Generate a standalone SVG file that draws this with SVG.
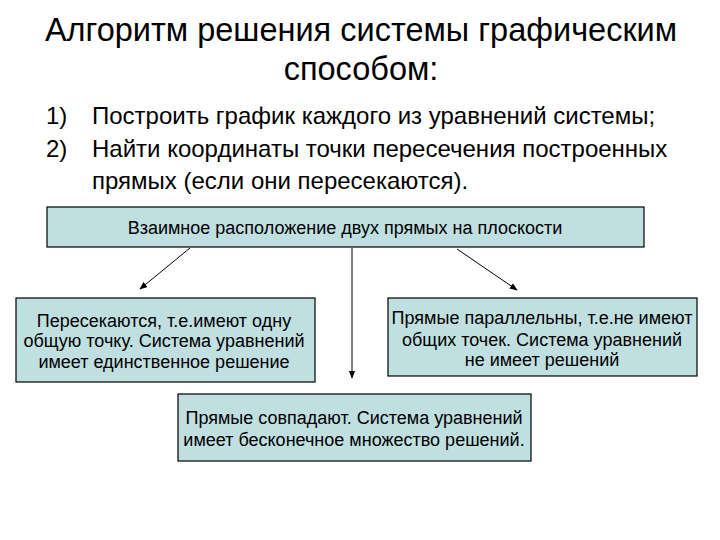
<svg xmlns="http://www.w3.org/2000/svg" width="720" height="540" viewBox="0 0 720 540">
<defs>
<style>
.t{font-family:"Liberation Sans",Arial,sans-serif;fill:#000}
.title{font-size:32.5px}
.li{font-size:24px}
.bx{fill:#bfdfe0;stroke:#000;stroke-width:1.2}
.bt{font-size:18px;text-anchor:middle}
.c{stroke:#000;stroke-width:1;fill:none}
</style>
<marker id="ah" viewBox="0 0 10 10" refX="9" refY="5" markerWidth="8" markerHeight="8" orient="auto"><path d="M0,1 L10,5 L0,9 Z" fill="#000"/></marker>
</defs>
<rect width="720" height="540" fill="#fff"/>
<text class="t title" x="361" y="41" text-anchor="middle">Алгоритм решения системы графическим</text>
<text class="t title" x="361" y="80" text-anchor="middle">способом:</text>
<text class="t li" x="46" y="124">1)</text>
<text class="t li" x="92" y="124">Построить график каждого из уравнений системы;</text>
<text class="t li" x="46" y="157">2)</text>
<text class="t li" x="92" y="157">Найти координаты точки пересечения построенных</text>
<text class="t li" x="92" y="189">прямых (если они пересекаются).</text>
<g id="connectors">
<line class="c" x1="190" y1="248" x2="140" y2="289" marker-end="url(#ah)"/>
<line class="c" x1="352" y1="248" x2="352" y2="378" marker-end="url(#ah)"/>
<line class="c" x1="457" y1="249" x2="517" y2="290" marker-end="url(#ah)"/>
</g>
<g id="top">
<rect class="bx" x="47" y="207" width="597" height="40"/>
<text class="t bt" x="345" y="234">Взаимное расположение двух прямых на плоскости</text>
</g>
<g id="left">
<rect class="bx" x="16" y="298" width="299" height="84"/>
<text class="t bt" x="164" y="327">Пересекаются, т.е.имеют одну</text>
<text class="t bt" x="164" y="347">общую точку. Система уравнений</text>
<text class="t bt" x="164" y="368">имеет единственное решение</text>
</g>
<g id="right">
<rect class="bx" x="388" y="298" width="309" height="78"/>
<text class="t bt" x="542" y="324">Прямые параллельны, т.е.не имеют</text>
<text class="t bt" x="542" y="346">общих точек. Система уравнений</text>
<text class="t bt" x="542" y="366">не имеет решений</text>
</g>
<g id="bottom">
<rect class="bx" x="178" y="394" width="353" height="67"/>
<text class="t bt" x="354" y="424">Прямые совпадают. Система уравнений</text>
<text class="t bt" x="354" y="446">имеет бесконечное множество решений.</text>
</g>
</svg>
